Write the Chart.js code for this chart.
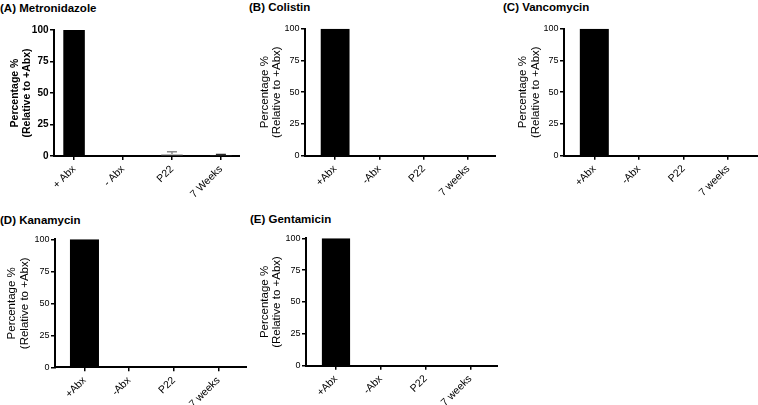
<!DOCTYPE html>
<html lang="en">
<head>
<meta charset="UTF-8" />
<title>Antibiotic persistence panels</title>
<style>
  body {
    margin: 0;
    width: 758px;
    height: 405px;
    position: relative;
    overflow: hidden;
    background: #fff;
    font-family: 'Liberation Sans', Arial, sans-serif;
  }
  canvas { position: absolute; }
  .title {
    position: absolute;
    font-weight: bold;
    font-size: 11.5px;
    line-height: 14px;
    color: #000;
    white-space: nowrap;
  }
</style>
</head>
<body>

<div class="title" style="left:0;top:1px">(A) Metronidazole</div>
<div class="title" style="left:249px;top:0">(B) Colistin</div>
<div class="title" style="left:503px;top:0">(C) Vancomycin</div>
<div class="title" style="left:0;top:213px">(D) Kanamycin</div>
<div class="title" style="left:250px;top:212px">(E) Gentamicin</div>

<canvas id="chartA" width="240" height="200" style="left:0;top:0"></canvas>
<canvas id="chartB" width="246" height="200" style="left:250px;top:0"></canvas>
<canvas id="chartC" width="258" height="200" style="left:500px;top:0"></canvas>
<canvas id="chartD" width="247" height="205" style="left:0;top:200px"></canvas>
<canvas id="chartE" width="248" height="205" style="left:250px;top:200px"></canvas>

<script src="https://cdn.jsdelivr.net/npm/chart.js"></script>
<script>
  // categories
  const groupsA = ['+ Abx', '- Abx', 'P22', '7 Weeks'];
  const groups = ['+Abx', '-Abx', 'P22', '7 weeks'];
  const yTicks = [0, 25, 50, 75, 100];

  // percentage relative to +Abx
  const metronidazole = [100, 0, 1.5, 0.3];
  const metronidazoleErr = [0, 0, 1.9, 0.9];
  const colistin = [100, 0, 0, 0];
  const vancomycin = [100, 0, 0, 0];
  const kanamycin = [100, 0, 0, 0];
  const gentamicin = [100, 0, 0, 0];

  const font = "'Liberation Sans', Arial, sans-serif";

  // upper error whiskers, drawn through the chart scales
  const errorBars = {
    id: 'errorBars',
    afterDatasetsDraw(chart) {
      const ds = chart.data.datasets[0];
      if (!ds.errors) return;
      const ctx = chart.ctx;
      const x = chart.scales.x, y = chart.scales.y;
      ctx.save();
      ctx.lineWidth = 1.5;
      ds.errors.forEach((e, i) => {
        if (!e) return;
        const px = x.getPixelForValue(i);
        const y0 = y.getPixelForValue(ds.data[i].y);
        const y1 = y.getPixelForValue(ds.data[i].y + e);
        ctx.strokeStyle = ds.errorColors[i];
        ctx.beginPath();
        ctx.moveTo(px, y0);
        ctx.lineTo(px, y1);
        ctx.moveTo(px - 5, y1);
        ctx.lineTo(px + 5, y1);
        ctx.stroke();
      });
      ctx.restore();
    }
  };

  // make sure the left axis line is drawn on top of everything
  const yAxisLine = {
    id: 'yAxisLine',
    afterDraw(chart) {
      const { ctx, chartArea: a } = chart;
      ctx.save();
      ctx.fillStyle = '#000';
      ctx.fillRect(Math.round(a.left) - 1, Math.floor(a.top), 2, Math.ceil(a.bottom - a.top) + 1);
      ctx.restore();
    }
  };

  function makePanel(id, cats, values, errors, p) {
    new Chart(document.getElementById(id), {
      type: 'bar',
      data: {
        datasets: [{
          data: values.map((v, i) => ({ x: i, y: v })),
          backgroundColor: p.colors,
          borderWidth: 0,
          categoryPercentage: 1,
          barPercentage: p.bar,
          errors: errors,
          errorColors: p.errorColors
        }]
      },
      options: {
        responsive: false,
        animation: false,
        layout: { padding: { top: p.padTop, left: 0, right: 0, bottom: 0 } },
        plugins: { legend: { display: false }, tooltip: { enabled: false } },
        scales: {
          x: {
            type: 'linear',
            offset: false,
            min: p.xMin,
            max: p.xMax,
            afterBuildTicks: s => { s.ticks = cats.map((c, i) => ({ value: i })); },
            afterFit: s => { s.height = p.xHeight; },
            ticks: {
              autoSkip: false,
              minRotation: 45,
              maxRotation: 45,
              padding: 3,
              color: '#000',
              font: { family: font, size: 10.5 },
              callback: v => cats[v]
            },
            grid: { offset: false, drawOnChartArea: false, color: '#000', lineWidth: 1.5, tickLength: 4 },
            border: { display: true, color: '#000', width: 2 }
          },
          y: {
            min: 0,
            max: 100,
            afterBuildTicks: s => { s.ticks = yTicks.map(v => ({ value: v })); },
            afterFit: s => { s.width = p.yWidth; },
            ticks: {
              padding: 1.5,
              color: '#000',
              font: { family: font, size: p.bold ? 10 : 9, weight: p.bold ? 'bold' : 'normal' }
            },
            grid: { drawOnChartArea: false, color: '#000', lineWidth: 1.5, tickLength: 4 },
            border: { display: true, color: '#000', width: 2 },
            title: {
              display: true,
              text: ['Percentage %', '(Relative to +Abx)'],
              color: '#000',
              padding: { top: p.titlePad, bottom: 0 },
              font: { family: font, size: p.bold ? 10.5 : 11.5, weight: p.bold ? 'bold' : 'normal', lineHeight: p.bold ? 1.2 : 1.1 }
            }
          }
        }
      },
      plugins: [errorBars, yAxisLine]
    });
  }

  const black = ['#000', '#000', '#000', '#000'];

  makePanel('chartA', groupsA, metronidazole, metronidazoleErr, {
    colors: ['#000', '#000', '#b5b5b5', '#3a3a3a'], errorColors: ['#000', '#000', '#8c8c8c', '#2a2a2a'],
    bar: 0.44, xMin: -0.41, xMax: 3.39, padTop: 30, xHeight: 44, yWidth: 54, titlePad: 8.7, bold: true
  });
  makePanel('chartB', groups, colistin, null, {
    colors: black, bar: 0.65, xMin: -0.68, xMax: 3.63, padTop: 28.7, xHeight: 44.3, yWidth: 55, titlePad: 8.2
  });
  makePanel('chartC', groups, vancomycin, null, {
    colors: black, bar: 0.65, xMin: -0.68, xMax: 3.67, padTop: 28.7, xHeight: 44.3, yWidth: 64, titlePad: 16.7
  });
  makePanel('chartD', groups, kanamycin, null, {
    colors: black, bar: 0.65, xMin: -0.66, xMax: 3.64, padTop: 39.3, xHeight: 37.7, yWidth: 55, titlePad: 5.7
  });
  makePanel('chartE', groups, gentamicin, null, {
    colors: black, bar: 0.63, xMin: -0.67, xMax: 3.62, padTop: 38.3, xHeight: 39.3, yWidth: 56, titlePad: 8.2
  });
</script>
</body>
</html>
